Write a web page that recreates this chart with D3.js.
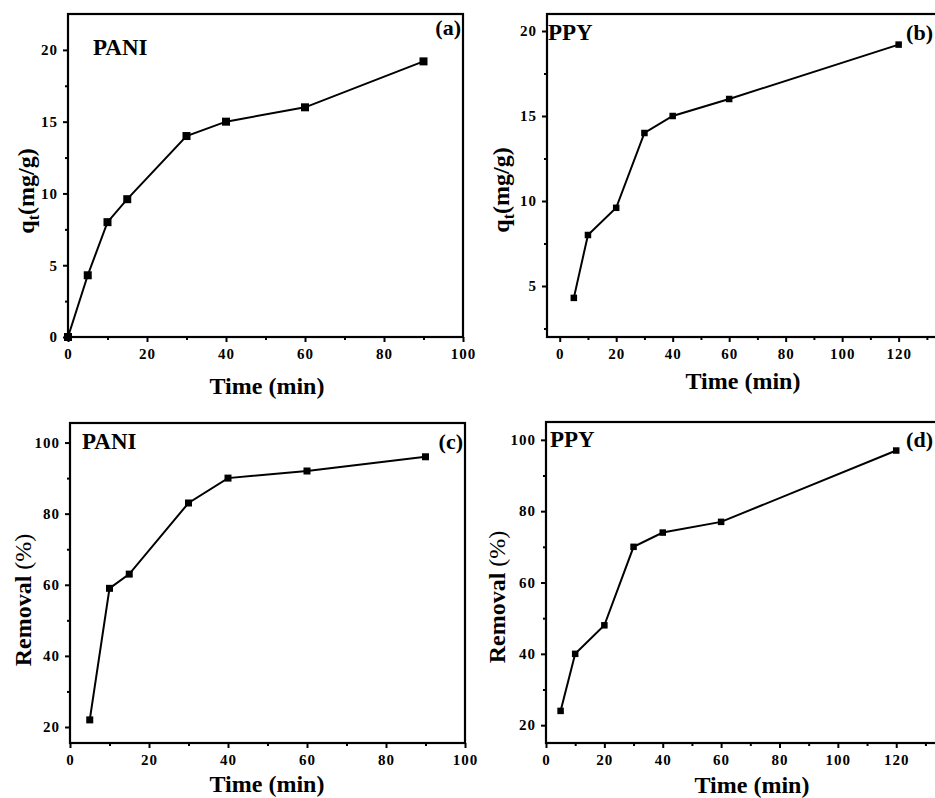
<!DOCTYPE html>
<html>
<head>
<meta charset="utf-8">
<script src="https://cdn.jsdelivr.net/npm/d3@7/dist/d3.min.js"></script>
<style>
body { margin: 0; background: #fff; }
</style>
</head>
<body>
<svg id="fig" width="935" height="798"></svg>
<script>
// data
var paniTime = [0, 5, 10, 15, 30, 40, 60, 90];
var paniQt = [0, 4.3, 8, 9.6, 14, 15, 16, 19.2];
var ppyTime = [5, 10, 20, 30, 40, 60, 120];
var ppyQt = [4.3, 8, 9.6, 14, 15, 16, 19.2];
var paniRemTime = [5, 10, 15, 30, 40, 60, 90];
var paniRemoval = [22, 59, 63, 83, 90, 92, 96];
var ppyRemTime = [5, 10, 20, 30, 40, 60, 120];
var ppyRemoval = [24, 40, 48, 70, 74, 77, 97];

var xTicks100 = [0, 20, 40, 60, 80, 100];
var xMinor100 = [10, 30, 50, 70, 90];
var xTicks120 = [0, 20, 40, 60, 80, 100, 120];
var xMinor120 = [10, 30, 50, 70, 90, 110, 130];
var qtTicksA = [0, 5, 10, 15, 20];
var qtTicksB = [5, 10, 15, 20];
var qtMinor = [2.5, 7.5, 12.5, 17.5];
var remTicks = [20, 40, 60, 80, 100];
var remMinor = [30, 50, 70, 90];

var FONT = "'Liberation Serif', 'Times New Roman', Times, serif";
var svg = d3.select("#fig");

var panels = [
  {x: paniTime, y: paniQt, box: [68, 14, 463, 337], xd: [0, 100], yd: [0, 22.5],
   xt: xTicks100, xm: xMinor100, yt: qtTicksA, ym: qtMinor, ms: 8,
   name: "PANI", nx: 93, ny: 55, tag: "(a)", tx: 461, ty: 35, tagEnd: true,
   ylab: "qt", yx: 26, yy: 191, xlx: 267, xly: 394},
  {x: ppyTime, y: ppyQt, box: [547, 14, 941, 337], xd: [-4.5, 135], yd: [2, 21],
   xt: xTicks120, xm: xMinor120, yt: qtTicksB, ym: qtMinor, ms: 6.5,
   name: "PPY", nx: 548, ny: 40, tag: "(b)", tx: 933, ty: 40, tagEnd: true,
   ylab: "qt", yx: 501, yy: 190, xlx: 743, xly: 389},
  {x: paniRemTime, y: paniRemoval, box: [70, 423, 465, 743], xd: [0, 100], yd: [15.5, 105.5],
   xt: xTicks100, xm: xMinor100, yt: remTicks, ym: remMinor, ms: 7,
   name: "PANI", nx: 82, ny: 449, tag: "(c)", tx: 463, ty: 449, tagEnd: true,
   ylab: "rem", yx: 23, yy: 600, xlx: 267, xly: 792},
  {x: ppyRemTime, y: ppyRemoval, box: [546, 422, 940, 743], xd: [0, 135], yd: [15, 105],
   xt: xTicks120, xm: xMinor120, yt: remTicks, ym: remMinor, ms: 6.5,
   name: "PPY", nx: 550, ny: 447, tag: "(d)", tx: 933, ty: 447, tagEnd: true,
   ylab: "rem", yx: 497, yy: 597, xlx: 752, xly: 793}
];

function label(g, x, y, size, txt) {
  return g.append("text").attr("x", x).attr("y", y)
    .style("font-family", FONT).style("font-weight", "bold").style("font-size", size + "px")
    .attr("fill", "#000").text(txt);
}

function drawPanel(p) {
  var l = p.box[0], t = p.box[1], r = p.box[2], b = p.box[3];
  var x = d3.scaleLinear().domain(p.xd).range([l, r]);
  var y = d3.scaleLinear().domain(p.yd).range([b, t]);
  var g = svg.append("g");

  g.append("g").attr("transform", "translate(0," + b + ")")
    .call(d3.axisBottom(x).tickValues(p.xt).tickSize(5).tickPadding(6).tickFormat(d3.format("d")));
  g.append("g").attr("transform", "translate(0," + b + ")")
    .call(d3.axisBottom(x).tickValues(p.xm).tickSize(3).tickFormat(""));
  g.append("g").attr("transform", "translate(" + l + ",0)")
    .call(d3.axisLeft(y).tickValues(p.yt).tickSize(5).tickPadding(5).tickFormat(d3.format("d")));
  g.append("g").attr("transform", "translate(" + l + ",0)")
    .call(d3.axisLeft(y).tickValues(p.ym).tickSize(3).tickFormat(""));
  g.selectAll(".domain").remove();
  g.selectAll(".tick line").attr("stroke", "#000").attr("stroke-width", 2);
  g.selectAll(".tick text").style("font-size", "15px").style("font-family", FONT)
    .style("font-weight", "bold").style("letter-spacing", "1px").attr("fill", "#000");

  g.append("rect").attr("x", l).attr("y", t).attr("width", r - l).attr("height", b - t)
    .attr("fill", "none").attr("stroke", "#000").attr("stroke-width", 2.2);

  var pts = p.x.map(function(d, i) { return [d, p.y[i]]; });
  var line = d3.line().x(function(d) { return x(d[0]); }).y(function(d) { return y(d[1]); });
  g.append("path").datum(pts).attr("d", line).attr("fill", "none").attr("stroke", "#000").attr("stroke-width", 2);
  g.selectAll("rect.pt").data(pts).enter().append("rect").attr("class", "pt")
    .attr("x", function(d) { return x(d[0]) - p.ms / 2; })
    .attr("y", function(d) { return y(d[1]) - p.ms / 2; })
    .attr("width", p.ms).attr("height", p.ms).attr("fill", "#000");

  label(g, p.nx, p.ny, 23, p.name);
  label(g, p.tx, p.ty, 22, p.tag).attr("text-anchor", p.tagEnd ? "end" : "start");
  label(g, p.xlx, p.xly, 24, "Time (min)").attr("text-anchor", "middle");

  var yl = label(g, 0, 0, 24, null).attr("text-anchor", "middle")
    .attr("transform", "translate(" + p.yx + "," + p.yy + ") rotate(-90)")
    .attr("dy", "0.35em");
  if (p.ylab == "qt") {
    yl.append("tspan").text("q");
    yl.append("tspan").attr("dy", "0.3em").style("font-size", "16px").text("t");
    yl.append("tspan").attr("dy", "-0.2em").text("(mg/g)");
  } else {
    yl.append("tspan").text("Removal ");
    yl.append("tspan").style("font-weight", "normal").text("(%)");
  }
}

panels.forEach(drawPanel);
</script>
</body>
</html>
